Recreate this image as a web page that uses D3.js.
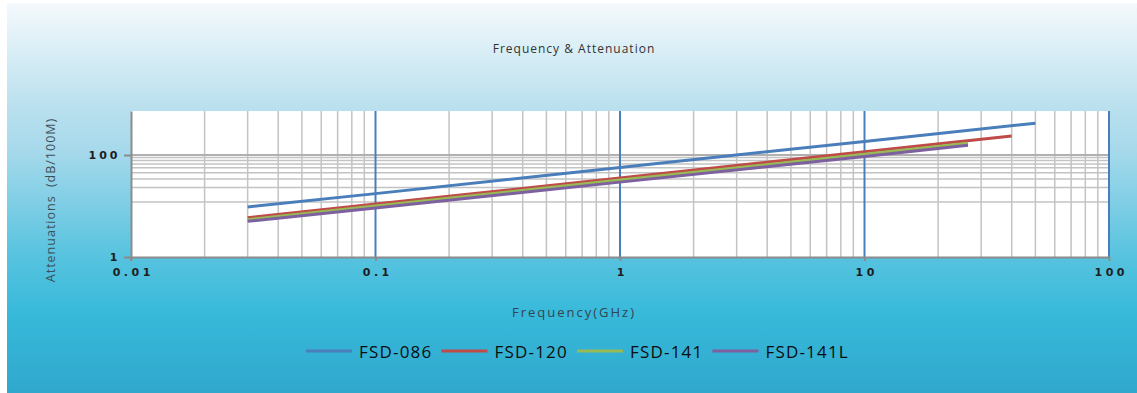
<!DOCTYPE html>
<html>
<head>
<meta charset="utf-8">
<script src="https://cdn.jsdelivr.net/npm/d3@7"></script>
<style>
body{margin:0;background:#fff;}
svg{display:block;}
</style>
</head>
<body>
<div id="chart"></div>
<script>
// series (GHz -> dB/100M)
var seriesNames = ["FSD-086","FSD-120","FSD-141","FSD-141L"];
var seriesColors = ["#4a7ebb","#be4b48","#98b954","#7d60a0"];
var freq086 = [0.03, 0.1, 1, 10, 50];
var att086 = [9.6, 17.5, 57, 185, 420];
var freq120 = [0.03, 0.1, 1, 10, 40];
var att120 = [5.9, 10.9, 35.5, 116, 236];
var freq141 = [0.03, 0.1, 1, 10, 26.5];
var att141 = [5.4, 10.0, 32.2, 103, 170];
var freq141L = [0.03, 0.1, 1, 10, 26.5];
var att141L = [5.0, 9.1, 29.4, 94, 155];

var xTickValues = [0.01, 0.1, 1, 10, 100];
var yTickValues = [1, 100];
var yMinorGrid = [12, 23, 34, 45, 56, 67, 78, 89];

var W = 1137, H = 393;
var margin = {top: 111, right: 28, bottom: 136, left: 131},
	width = W - margin.left - margin.right,
	height = H - margin.top - margin.bottom;

var svg = d3.select("#chart").append("svg")
	.attr("width", W)
	.attr("height", H);

//background gradient
var grad = svg.append("defs").append("linearGradient")
	.attr("id", "bg")
	.attr("x1", 0).attr("y1", 0).attr("x2", 0).attr("y2", 1);
[[0, "#f4f9fc"], [0.27, "#b9e0ee"], [0.38, "#a6d9eb"], [0.65, "#57c3df"], [0.8, "#37b9da"], [1, "#30a8cd"]]
	.forEach(function(s){
		grad.append("stop").attr("offset", s[0]).attr("stop-color", s[1]);
	});
svg.append("rect")
	.attr("x", 7).attr("y", 3)
	.attr("width", W - 7).attr("height", H - 3)
	.attr("fill", "url(#bg)");

var x = d3.scaleLog().domain([0.01, 100]).range([0, width]);
var y = d3.scaleLog().domain([1, 730]).range([height, 0]);

var g = svg.append("g")
	.attr("transform", "translate(" + margin.left + "," + margin.top + ")");

g.append("rect")
	.attr("width", width)
	.attr("height", height)
	.attr("fill", "#fff");

//grid
g.append("g").attr("class", "xgrid")
	.selectAll("line")
	.data(x.ticks().filter(function(d){ return xTickValues.indexOf(d) < 0; }))
	.enter().append("line")
	.attr("x1", function(d){ return x(d); })
	.attr("x2", function(d){ return x(d); })
	.attr("y1", 0).attr("y2", height)
	.attr("stroke", "#c3c3c3")
	.attr("stroke-width", 1.5);

g.append("g").attr("class", "ygrid")
	.selectAll("line")
	.data(yMinorGrid.concat([100]))
	.enter().append("line")
	.attr("x1", 0).attr("x2", width)
	.attr("y1", function(d){ return y(d); })
	.attr("y2", function(d){ return y(d); })
	.attr("stroke", function(d){ return d == 100 ? "#b0b0b0" : "#c3c3c3"; })
	.attr("stroke-width", function(d){ return d == 100 ? 2 : 1.5; });

g.append("g").attr("class", "xmajor")
	.selectAll("line")
	.data(xTickValues.slice(1))
	.enter().append("line")
	.attr("x1", function(d){ return x(d); })
	.attr("x2", function(d){ return x(d); })
	.attr("y1", 0).attr("y2", height)
	.attr("stroke", "#4a7ebb")
	.attr("stroke-width", 2);

//axes
var xAxis = d3.axisBottom(x)
	.tickValues(xTickValues)
	.tickFormat(d3.format("~g"))
	.tickSize(4)
	.tickSizeOuter(0)
	.tickPadding(7);

var yAxis = d3.axisLeft(y)
	.tickValues(yTickValues)
	.tickFormat(d3.format("~g"))
	.tickSize(7)
	.tickSizeOuter(0)
	.tickPadding(3.5);

var gx = g.append("g")
	.attr("transform", "translate(0," + height + ")")
	.call(xAxis);
var gy = g.append("g")
	.call(yAxis);

[gx, gy].forEach(function(a){
	a.select(".domain").attr("stroke", "#8c8c8c").attr("stroke-width", 2);
	a.selectAll(".tick line").attr("stroke", "#8c8c8c").attr("stroke-width", 2);
	a.selectAll(".tick text")
		.attr("fill", "#1e1e1e")
		.style("font-family", "DejaVu Sans")
		.style("font-weight", "bold")
		.style("font-size", "11px");
});
gx.selectAll(".tick text").style("letter-spacing", "3.5px").attr("dx", "1.75px");
gy.selectAll(".tick text").style("letter-spacing", "3px").attr("dy", "0.36em");
//y axis line runs a little under the x axis
gy.append("line")
	.attr("y1", height).attr("y2", height + 4)
	.attr("stroke", "#8c8c8c").attr("stroke-width", 2);

//series
var line = d3.line()
	.x(function(d){ return x(d[0]); })
	.y(function(d){ return y(d[1]); });

var series = [
	d3.zip(freq086, att086),
	d3.zip(freq120, att120),
	d3.zip(freq141, att141),
	d3.zip(freq141L, att141L)
];

g.selectAll(".serie")
	.data(series)
	.enter().append("path")
	.attr("class", "serie")
	.attr("d", line)
	.attr("fill", "none")
	.attr("stroke", function(d, i){ return seriesColors[i]; })
	.attr("stroke-width", 3);

//titles
svg.append("text")
	.attr("x", 574).attr("y", 53)
	.attr("text-anchor", "middle")
	.attr("fill", "#333")
	.style("font-family", "Open Sans")
	.style("font-size", "12px")
	.style("letter-spacing", "1px")
	.text("Frequency & Attenuation");

svg.append("text")
	.attr("x", 574).attr("y", 317)
	.attr("text-anchor", "middle")
	.attr("fill", "#34454f")
	.style("font-family", "Open Sans")
	.style("font-size", "13px")
	.style("letter-spacing", "2px")
	.text("Frequency(GHz)");

svg.append("text")
	.attr("transform", "translate(55,200) rotate(-90)")
	.attr("text-anchor", "middle")
	.attr("fill", "#3e4f58")
	.style("font-family", "Open Sans")
	.style("font-size", "12.5px")
	.style("letter-spacing", "1px")
	.style("word-spacing", "4px")
	.text("Attenuations (dB/100M)");

//legend
var legend = svg.append("g").attr("class", "legend");
var lx = 306;
seriesNames.forEach(function(name, i){
	legend.append("line")
		.attr("x1", lx).attr("x2", lx + 46)
		.attr("y1", 351).attr("y2", 351)
		.attr("stroke", seriesColors[i])
		.attr("stroke-width", 3);
	var t = legend.append("text")
		.attr("x", lx + 53).attr("y", 357.5)
		.attr("fill", "#0d0d0d")
		.style("font-family", "Open Sans")
		.style("font-size", "17px")
		.style("letter-spacing", "1.2px")
		.text(name);
	lx = lx + 53 + t.node().getComputedTextLength() + 9;
});
</script>
</body>
</html>
